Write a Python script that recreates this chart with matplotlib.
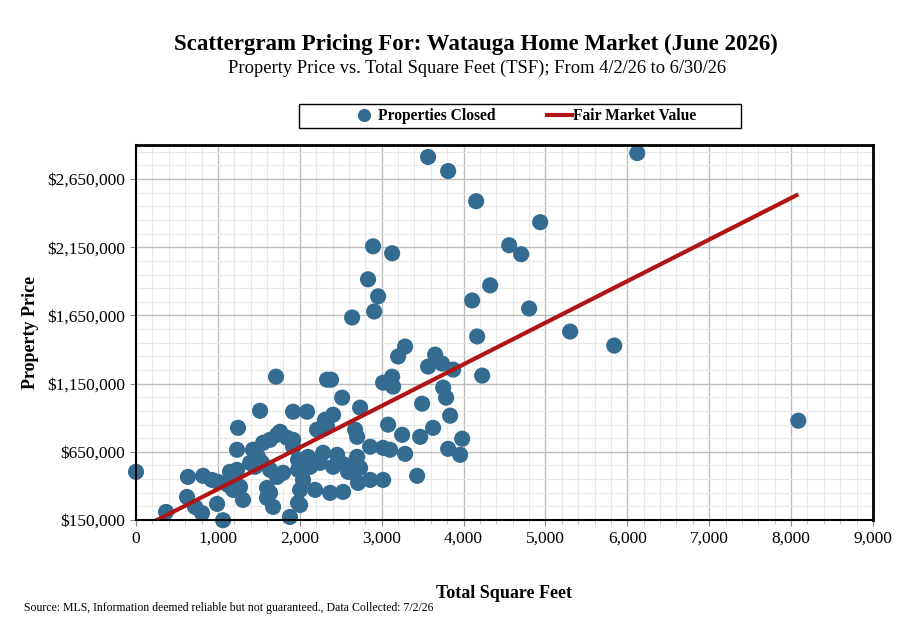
import matplotlib
matplotlib.use("Agg")
import matplotlib.pyplot as plt
from matplotlib.ticker import MultipleLocator, FixedLocator, FuncFormatter
from matplotlib.lines import Line2D
from matplotlib.patches import Rectangle
import numpy as np

plt.rcParams['font.family'] = ['Liberation Serif', 'DejaVu Serif']

# Total square feet of closed properties
sqft = [0, 3567, 3812, 6121, 4154, 4936, 4557, 4704, 2895, 3128, 2834, 4325, 2957, 4105, 4801,
        2908, 2639, 5302, 5840, 4166, 3286, 3201, 3653, 3567, 3738, 3873, 4227, 3128, 3018, 3140,
        2333, 2382, 1710, 3751, 3787, 3836, 3494, 8088, 2517, 2737, 3628, 3470, 3983, 3812, 3958,
        3286, 3433,
        1515, 1918, 2089, 2309, 2407, 2211, 2333, 2676, 2700, 3079, 3250, 2859, 3018, 3103,
        1918, 2101, 2285, 2456, 2468, 2126, 2248, 2407, 2553, 1979, 2040, 2004, 2187, 2370,
        2529, 2712, 2859, 3018, 2004, 1880, 2590, 2651, 2737, 2700,
        1246, 1234, 635, 819, 928, 1002, 623, 721, 806, 367, 990, 1063, 1148, 1234, 1124,
        1185, 1271, 1307, 1600, 1674, 1429, 1490, 1552, 1637, 1723, 1759, 1845, 1393, 1454,
        1539, 1637, 1723, 1796, 1600, 1637, 1979, 1918, 1979, 2040]

# Closed property prices
price = [503000, 2812000, 2709000, 2841000, 2488000, 2334000, 2165000, 2099000, 2157000, 2106000,
         1915000, 1871000, 1790000, 1760000, 1701000, 1679000, 1635000, 1532000, 1429000, 1496000,
         1422000, 1349000, 1363000, 1275000, 1297000, 1253000, 1209000, 1201000, 1157000, 1128000,
         1179000, 1179000, 1201000, 1121000, 1047000, 915000, 1003000, 878000, 1047000, 974000,
         826000, 760000, 746000, 672000, 628000, 635000, 474000,
         951000, 944000, 944000, 885000, 922000, 812000, 834000, 812000, 760000, 849000, 775000,
         687000, 679000, 665000, 738000, 613000, 643000, 628000, 591000, 540000, 569000, 540000,
         554000, 518000, 444000, 371000, 371000, 349000, 356000, 422000, 444000, 444000, 260000,
         172000, 503000, 496000, 532000, 613000,
         826000, 665000, 466000, 474000, 444000, 429000, 319000, 246000, 201000, 209000, 268000,
         148000, 503000, 518000, 407000, 371000, 393000, 297000, 312000, 246000, 665000, 613000,
         716000, 738000, 775000, 797000, 753000, 569000, 540000, 569000, 518000, 466000, 496000,
         385000, 349000, 275000, 687000, 591000, 518000]

# Fair market value trend line (endpoints in square feet, price per sqft, base)
fmv_sqft = [0, 8088]
fmv_base = 71600
fmv_slope = 305.0

x_ticks = [0, 1000, 2000, 3000, 4000, 5000, 6000, 7000, 8000, 9000]
y_ticks = [150000, 650000, 1150000, 1650000, 2150000, 2650000]

title = "Scattergram Pricing For: Watauga Home Market (June 2026)"
subtitle = "Property Price vs. Total Square Feet (TSF); From 4/2/26 to 6/30/26"
source = "Source: MLS, Information deemed reliable but not guaranteed., Data Collected: 7/2/26"

dot_color = "#346b90"
line_color = "#b01414"

fig = plt.figure(figsize=(9.12, 6.21), dpi=100)
ax = fig.add_axes([136/912, 1-520/621, (873-136)/912, (520-145)/621])

ax.set_xlim(0, 9000)
ax.set_ylim(150000, 2900000)

ax.xaxis.set_major_locator(FixedLocator(x_ticks))
ax.xaxis.set_minor_locator(MultipleLocator(200))
ax.yaxis.set_major_locator(FixedLocator(y_ticks))
ax.yaxis.set_minor_locator(FixedLocator(np.arange(150000, 2900001, 100000)))
ax.xaxis.set_major_formatter(FuncFormatter(lambda v, p: f"{int(v):,}"))
ax.yaxis.set_major_formatter(FuncFormatter(lambda v, p: f"${int(v):,}"))

ax.grid(which='major', color='#bdbdbd', lw=1.0)
ax.grid(which='minor', color='#e8e8e8', lw=0.8)
ax.set_axisbelow(True)

fx = np.array(fmv_sqft, dtype=float)
fy = fmv_base + fmv_slope * fx
ax.scatter(sqft, price, s=135, color=dot_color, edgecolors='none', zorder=3, clip_on=False)
ax.plot(fx, fy, color=line_color, lw=3.0, zorder=4, solid_capstyle='butt')

for side in ['top', 'right']:
    ax.spines[side].set_linewidth(2.0)
for side in ['left', 'bottom']:
    ax.spines[side].set_linewidth(1.5)
for s in ax.spines.values():
    s.set_color('black')
    s.set_zorder(5)

ax.tick_params(axis='both', which='major', labelsize=12.5, length=4, color='#888888', pad=4)
ax.tick_params(axis='x', which='minor', length=3, color='#bbbbbb')
ax.tick_params(axis='y', which='minor', length=0)

ax.set_xlabel("Total Square Feet", fontsize=13, fontweight='bold', labelpad=27)
ax.set_ylabel("Property Price", fontsize=13, fontweight='bold', labelpad=6)

fig.text(476/912, 1-44/621, title, ha='center', va='center', fontsize=16.5, fontweight='bold')
fig.text(477/912, 1-68/621, subtitle, ha='center', va='center', fontsize=13.3)
fig.text(24/912, 1-608/621, source, ha='left', va='center', fontsize=8.5)

# legend box
fig.patches.append(Rectangle((299/912, 1-128/621), (741-299)/912, 24/621,
                             transform=fig.transFigure, facecolor='white',
                             edgecolor='black', lw=1.0))
handles = [Line2D([], [], marker='o', ls='none', color=dot_color, markersize=8.5),
           Line2D([], [], color=line_color, lw=3.0)]
leg = fig.legend(handles, ["Properties Closed", "Fair Market Value"], ncol=2,
                 loc='center', bbox_to_anchor=(524/912, 1-116/621),
                 frameon=False, prop={'weight': 'bold', 'size': 11.2},
                 handlelength=1.6, handletextpad=0.1, columnspacing=3.3)

fig.savefig("out.png", dpi=100, facecolor='white')
